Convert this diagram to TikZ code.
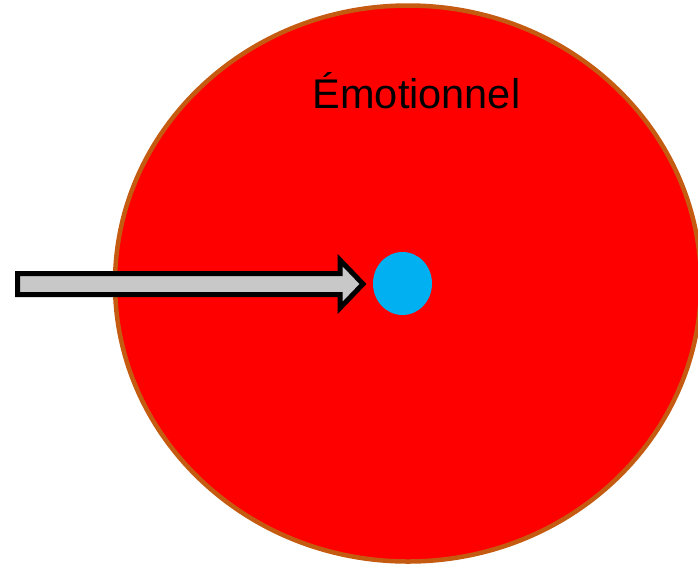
\documentclass[tikz,border=0pt]{standalone}
\usepackage{fontspec}
\setmainfont{Liberation Sans}
\usetikzlibrary{shapes.geometric}
\definecolor{ringred}{HTML}{FF0000}
\definecolor{ringedge}{HTML}{C55A11}
\definecolor{dotblue}{HTML}{00B0F0}
\definecolor{arrowgray}{HTML}{C8C8C8}
\tikzset{
  bigring/.style={ellipse, fill=ringred, draw=ringedge, line width=4.5pt, minimum width=586pt, minimum height=556pt, inner sep=0pt},
  dot/.style={ellipse, fill=dotblue, minimum width=59pt, minimum height=63pt, inner sep=0pt},
  blockarrow/.style={fill=arrowgray, draw=black, line width=5pt, line join=miter},
  label/.style={font=\fontsize{41.5}{44}\selectfont, anchor=base, inner sep=0pt}
}
\begin{document}
\begin{tikzpicture}[x=1pt,y=-1pt]
\useasboundingbox (0,0) rectangle (698,566);
\begin{scope}
\clip (0,0) rectangle (698,566);
\node[bigring] (ring) at (408,283.5) {};
\end{scope}
\node[label] (title) at (416.5,108.5) {Émotionnel};
\node[dot] (target) at (402.5,283.5) {};
\draw[blockarrow] (17.5,273.5) -- (340,273.5) -- (340,260) -- (363,284) -- (340,308) -- (340,294.5) -- (17.5,294.5) -- cycle;
\coordinate (tip) at (363,284);
\end{tikzpicture}
\end{document}
